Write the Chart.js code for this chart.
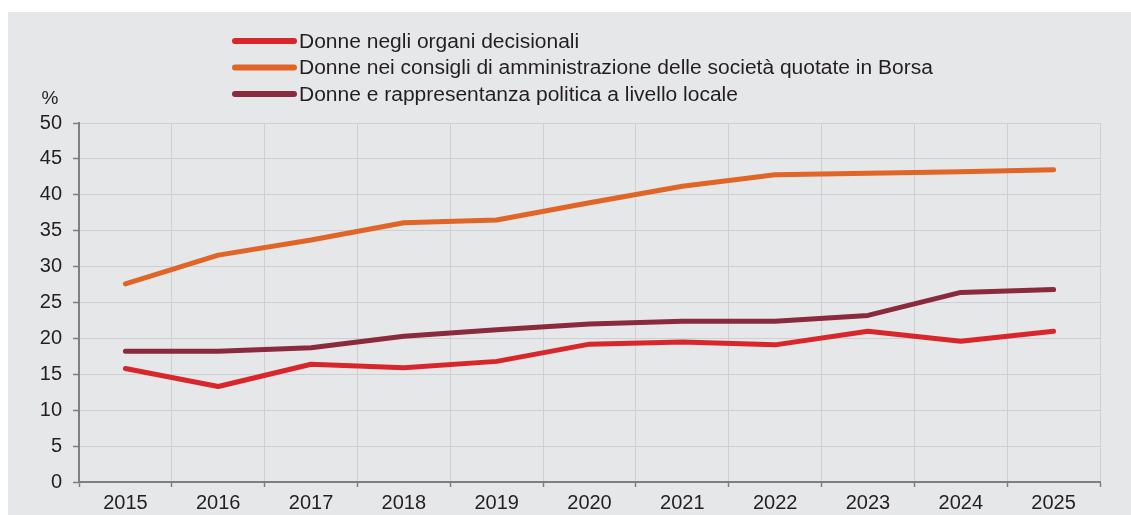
<!DOCTYPE html>
<html>
<head>
<meta charset="utf-8">
<script src="https://cdn.jsdelivr.net/npm/chart.js@4/dist/chart.umd.min.js"></script>
<style>
  html, body { margin: 0; padding: 0; background: #ffffff; }
  body { width: 1131px; height: 515px; position: relative; overflow: hidden; }
  #panel { position: absolute; left: 8px; top: 12px; width: 1123px; height: 503px; background: #e6e7e9; }
  #c { display: block; }
</style>
</head>
<body>
<div id="panel"><canvas id="c" width="1123" height="503"></canvas></div>
<script>
const years = ["2015","2016","2017","2018","2019","2020","2021","2022","2023","2024","2025"];
const organiDecisionali = [15.8, 13.3, 16.4, 15.9, 16.8, 19.2, 19.5, 19.1, 21.0, 19.6, 21.0];
const consigliAmministrazione = [27.6, 31.6, 33.7, 36.1, 36.5, 38.9, 41.2, 42.8, 43.0, 43.2, 43.5];
const rappresentanzaLocale = [18.2, 18.2, 18.7, 20.3, 21.2, 22.0, 22.4, 22.4, 23.2, 26.4, 26.8];
const seriesLabels = [
  "Donne negli organi decisionali",
  "Donne nei consigli di amministrazione delle società quotate in Borsa",
  "Donne e rappresentanza politica a livello locale"
];
const seriesColors = ["#d9262b", "#e06526", "#8a2a3d"];
const yUnit = "%";

const FONT = "'Liberation Sans', Arial, sans-serif";
const TEXT = "#231f20";

const legendPlugin = {
  id: 'customLegend',
  afterDraw(chart) {
    const ctx = chart.ctx;
    ctx.save();
    const rows = [29, 55.5, 82];
    chart.data.datasets.forEach((ds, i) => {
      const y = rows[i];
      ctx.strokeStyle = ds.borderColor;
      ctx.lineWidth = 6;
      ctx.lineCap = 'round';
      ctx.beginPath();
      ctx.moveTo(227, y);
      ctx.lineTo(286, y);
      ctx.stroke();
      ctx.save();
      ctx.translate(291, y + 1);
      ctx.scale(1.05, 1);
      ctx.fillStyle = TEXT;
      ctx.font = "20px " + FONT;
      ctx.textAlign = 'left';
      ctx.textBaseline = 'middle';
      ctx.fillText(ds.label, 0, 0);
      ctx.restore();
    });
    ctx.font = "19px " + FONT;
    ctx.textAlign = 'center';
    ctx.textBaseline = 'middle';
    ctx.fillStyle = TEXT;
    ctx.fillText(yUnit, 42, 87);
    ctx.restore();
  }
};

const mk = (label, data, color) => ({
  label, data,
  borderColor: color, backgroundColor: color,
  borderWidth: 5, pointRadius: 0, tension: 0,
  borderCapStyle: 'round', borderJoinStyle: 'round', fill: false
});

new Chart(document.getElementById('c'), {
  type: 'line',
  data: {
    labels: years,
    datasets: [
      mk(seriesLabels[0], organiDecisionali, seriesColors[0]),
      mk(seriesLabels[1], consigliAmministrazione, seriesColors[1]),
      mk(seriesLabels[2], rappresentanzaLocale, seriesColors[2])
    ]
  },
  options: {
    responsive: false,
    animation: false,
    devicePixelRatio: 1,
    layout: { padding: { top: 111, right: 31, left: 0, bottom: 0 } },
    plugins: { legend: { display: false }, tooltip: { enabled: false }, title: { display: false } },
    scales: {
      x: {
        offset: true,
        grid: { offset: true, color: '#cdcfd2', lineWidth: 1, drawTicks: true, tickLength: 5, tickColor: '#7f7f7f', tickWidth: 1.5 },
        border: { color: '#7f7f7f', width: 2 },
        ticks: { color: TEXT, font: { family: FONT, size: 20 }, padding: 4, maxRotation: 0, autoSkip: false },
        afterFit(s) { s.height = 33; }
      },
      y: {
        min: 0, max: 50,
        grid: { color: '#cdcfd2', lineWidth: 1, drawTicks: true, tickLength: 6, tickColor: '#7f7f7f', tickWidth: 1.5 },
        border: { color: '#7f7f7f', width: 2 },
        ticks: { stepSize: 5, color: TEXT, font: { family: FONT, size: 20 }, padding: 11 },
        afterFit(s) { s.width = 71; }
      }
    }
  },
  plugins: [legendPlugin]
});
</script>
</body>
</html>
